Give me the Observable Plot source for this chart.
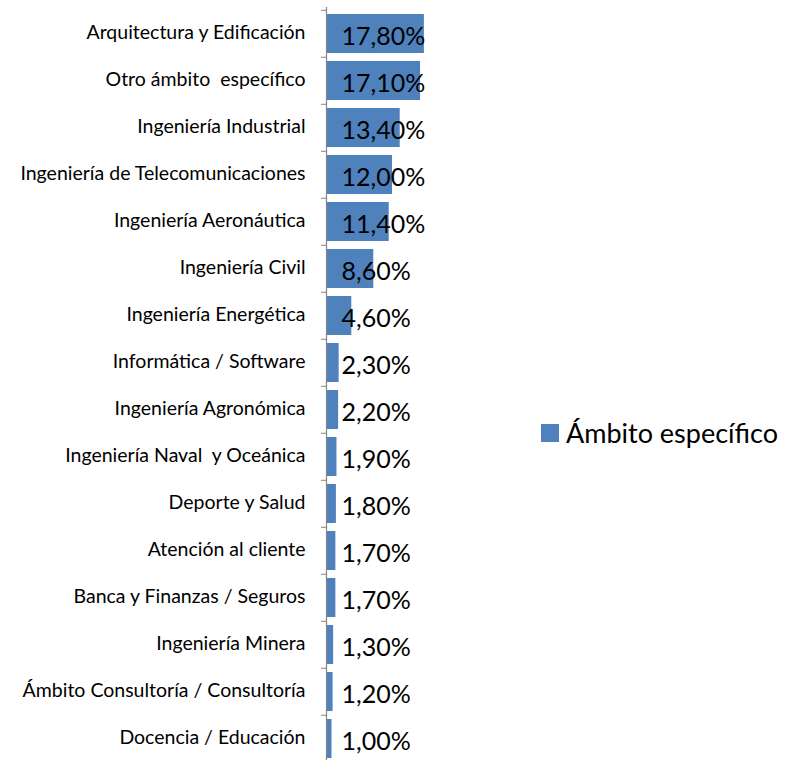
<!DOCTYPE html>
<html>
<head>
<meta charset="utf-8">
<script src="https://cdn.jsdelivr.net/npm/d3@7"></script>
<script src="https://cdn.jsdelivr.net/npm/@observablehq/plot@0.6"></script>
<style>
  html, body { margin: 0; padding: 0; background: #fff; overflow: hidden; }
  #wrap { position: relative; width: 786px; height: 760px; overflow: hidden; }
  #legend { position: absolute; left: 541px; top: 416px; font-family: Lato, sans-serif; font-size: 27px; color: #000; display: flex; align-items: center; white-space: nowrap; }
  #legend .sw { width: 18px; height: 18px; background: #4F81BD; margin-right: 7px; }
</style>
</head>
<body>
<div id="wrap">
  <div id="chart"></div>
  <div id="legend"><span class="sw"></span><span id="legendLabel"></span></div>
</div>
<script>
const categories = [
  "Arquitectura y Edificación",
  "Otro ámbito  específico",
  "Ingeniería Industrial",
  "Ingeniería de Telecomunicaciones",
  "Ingeniería Aeronáutica",
  "Ingeniería Civil",
  "Ingeniería Energética",
  "Informática / Software",
  "Ingeniería Agronómica",
  "Ingeniería Naval  y Oceánica",
  "Deporte y Salud",
  "Atención al cliente",
  "Banca y Finanzas / Seguros",
  "Ingeniería Minera",
  "Ámbito Consultoría / Consultoría",
  "Docencia / Educación"
];
const values = [17.8, 17.1, 13.4, 12.0, 11.4, 8.6, 4.6, 2.3, 2.2, 1.9, 1.8, 1.7, 1.7, 1.3, 1.2, 1.0];
const seriesName = "Ámbito específico";

const data = categories.map((c, i) => ({category: c, value: values[i]}));
const fmt = v => v.toFixed(2).replace(".", ",") + "%";

document.getElementById("legendLabel").textContent = seriesName;

const height = 766, marginTop = 7, marginBottom = 0;
const step = (height - marginTop - marginBottom) / categories.length;

const chart = Plot.plot({
  width: 786,
  height,
  marginTop,
  marginBottom,
  marginLeft: 326,
  marginRight: 350,
  style: {fontFamily: "Lato, sans-serif", background: "#fff"},
  x: {domain: [0, 20], axis: null},
  y: {domain: categories, paddingInner: 0.16, paddingOuter: 0.08, label: null},
  marks: [
    Plot.barX(data, {y: "category", x: "value", fill: "#4F81BD"}),
    Plot.axisY({tickSize: 0, tickPadding: 21, fontSize: 19.5, fill: "#000", dy: -1, label: null}),
    Plot.axisY({tickSize: 5, tickFormat: () => "", dy: -step / 2, stroke: "#868686", label: null}),
    Plot.ruleX([0], {stroke: "#868686", strokeWidth: 1.2}),
    Plot.text(data, {y: "category", x: 0, text: d => fmt(d.value), textAnchor: "start", dx: 15, dy: 3, fontSize: 25, fill: "#000"})
  ]
});
document.getElementById("chart").appendChild(chart);
</script>
</body>
</html>
